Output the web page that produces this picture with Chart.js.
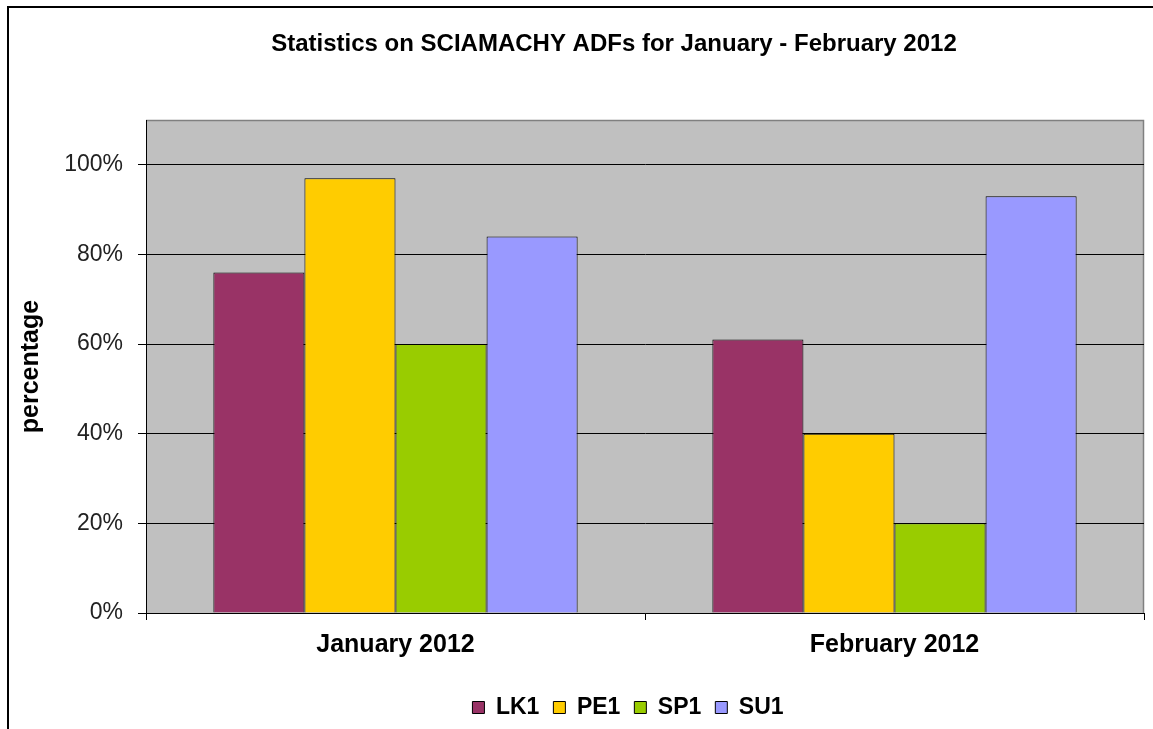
<!DOCTYPE html>
<html>
<head>
<meta charset="utf-8">
<script src="https://cdn.jsdelivr.net/npm/chart.js@4"></script>
<style>
  html, body { margin: 0; padding: 0; background: #fff; }
  #wrap { position: relative; width: 1153px; height: 729px; overflow: hidden; }
  #frame { position: absolute; left: 7px; top: 6px; width: 1300px; height: 800px;
           border-left: 2px solid #000; border-top: 2px solid #000; pointer-events: none; }
  canvas { position: absolute; left: 0; top: 0; }
</style>
</head>
<body>
<div id="wrap">
  <canvas id="c" width="1153" height="729"></canvas>
  <div id="frame"></div>
</div>
<script>
const chartTitle = 'Statistics on SCIAMACHY ADFs for January - February 2012';
const categories = ['January 2012', 'February 2012'];
const seriesNames = ['LK1', 'PE1', 'SP1', 'SU1'];
const LK1 = [76, 61];
const PE1 = [97, 40];
const SP1 = [60, 20];
const SU1 = [84, 93];
const seriesColors = ['#993366', '#FFCC00', '#99CC00', '#9999FF'];
const yTickValues = [0, 20, 40, 60, 80, 100];
const yAxisTitle = 'percentage';

const FONT = '"Liberation Sans", Arial, Helvetica, sans-serif';

const plotBg = {
  id: 'plotBg',
  beforeDraw(chart) {
    const {ctx, chartArea: a} = chart;
    ctx.save();
    ctx.fillStyle = '#C0C0C0';
    ctx.fillRect(a.left, a.top, a.right - a.left, a.bottom - a.top);
    ctx.strokeStyle = '#808080';
    ctx.lineWidth = 1.5;
    ctx.beginPath();
    ctx.moveTo(a.left, a.top + 0.5);
    ctx.lineTo(a.right - 0.5, a.top + 0.5);
    ctx.lineTo(a.right - 0.5, a.bottom);
    ctx.stroke();
    ctx.restore();
  },
  afterDraw(chart) {
    const {ctx} = chart;
    ctx.save();
    ctx.fillStyle = '#000';
    ctx.font = 'bold 24px ' + FONT;
    ctx.textAlign = 'center';
    ctx.textBaseline = 'middle';
    ctx.fillText(chartTitle, 614, 44);
    ctx.restore();
  }
};

const legendShift = {
  id: 'legendShift',
  afterLayout(chart) {
    const l = chart.legend;
    const targetCenter = 628;
    const w = l.right - l.left;
    l.left = targetCenter - w / 2;
    l.right = targetCenter + w / 2;
  }
};

const data = {
  labels: categories,
  datasets: [LK1, PE1, SP1, SU1].map((vals, i) => ({
    label: seriesNames[i],
    data: vals,
    backgroundColor: seriesColors[i],
    borderColor: '#000',
    borderWidth: 1,
    categoryPercentage: 0.73,
    barPercentage: 1.0
  }))
};

new Chart(document.getElementById('c'), {
  type: 'bar',
  data,
  plugins: [plotBg, legendShift],
  options: {
    responsive: false,
    animation: false,
    layout: { padding: { top: 120, right: 9, bottom: 0, left: 0 } },
    plugins: {
      title: { display: false },
      tooltip: { enabled: false },
      legend: {
        position: 'bottom',
        labels: {
          boxWidth: 12, boxHeight: 12, padding: 14,
          color: '#000',
          font: { family: FONT, size: 23, weight: 'bold' }
        }
      }
    },
    scales: {
      x: {
        afterFit(s) { s.height = 69; },
        grid: { display: true, drawOnChartArea: false, drawTicks: true, tickLength: 7, tickColor: '#000', offset: true },
        border: { display: true, color: '#000', width: 1 },
        ticks: { color: '#000', padding: 10, font: { family: FONT, size: 25, weight: 'bold' } }
      },
      y: {
        min: 0, max: 110,
        afterFit(s) { s.width = 146; },
        afterBuildTicks(s) { s.ticks = yTickValues.map(v => ({ value: v })); },
        grid: { color: '#000', lineWidth: 1, tickLength: 8, tickColor: '#000' },
        border: { display: true, color: '#000', width: 1 },
        ticks: {
          color: '#222', padding: 15,
          font: { family: FONT, size: 23 },
          callback: v => v + '%'
        },
        title: {
          display: true, text: yAxisTitle, color: '#000',
          padding: { top: 16, bottom: 0 },
          font: { family: FONT, size: 25, weight: 'bold', lineHeight: 1.2 }
        }
      }
    }
  }
});
</script>
</body>
</html>
